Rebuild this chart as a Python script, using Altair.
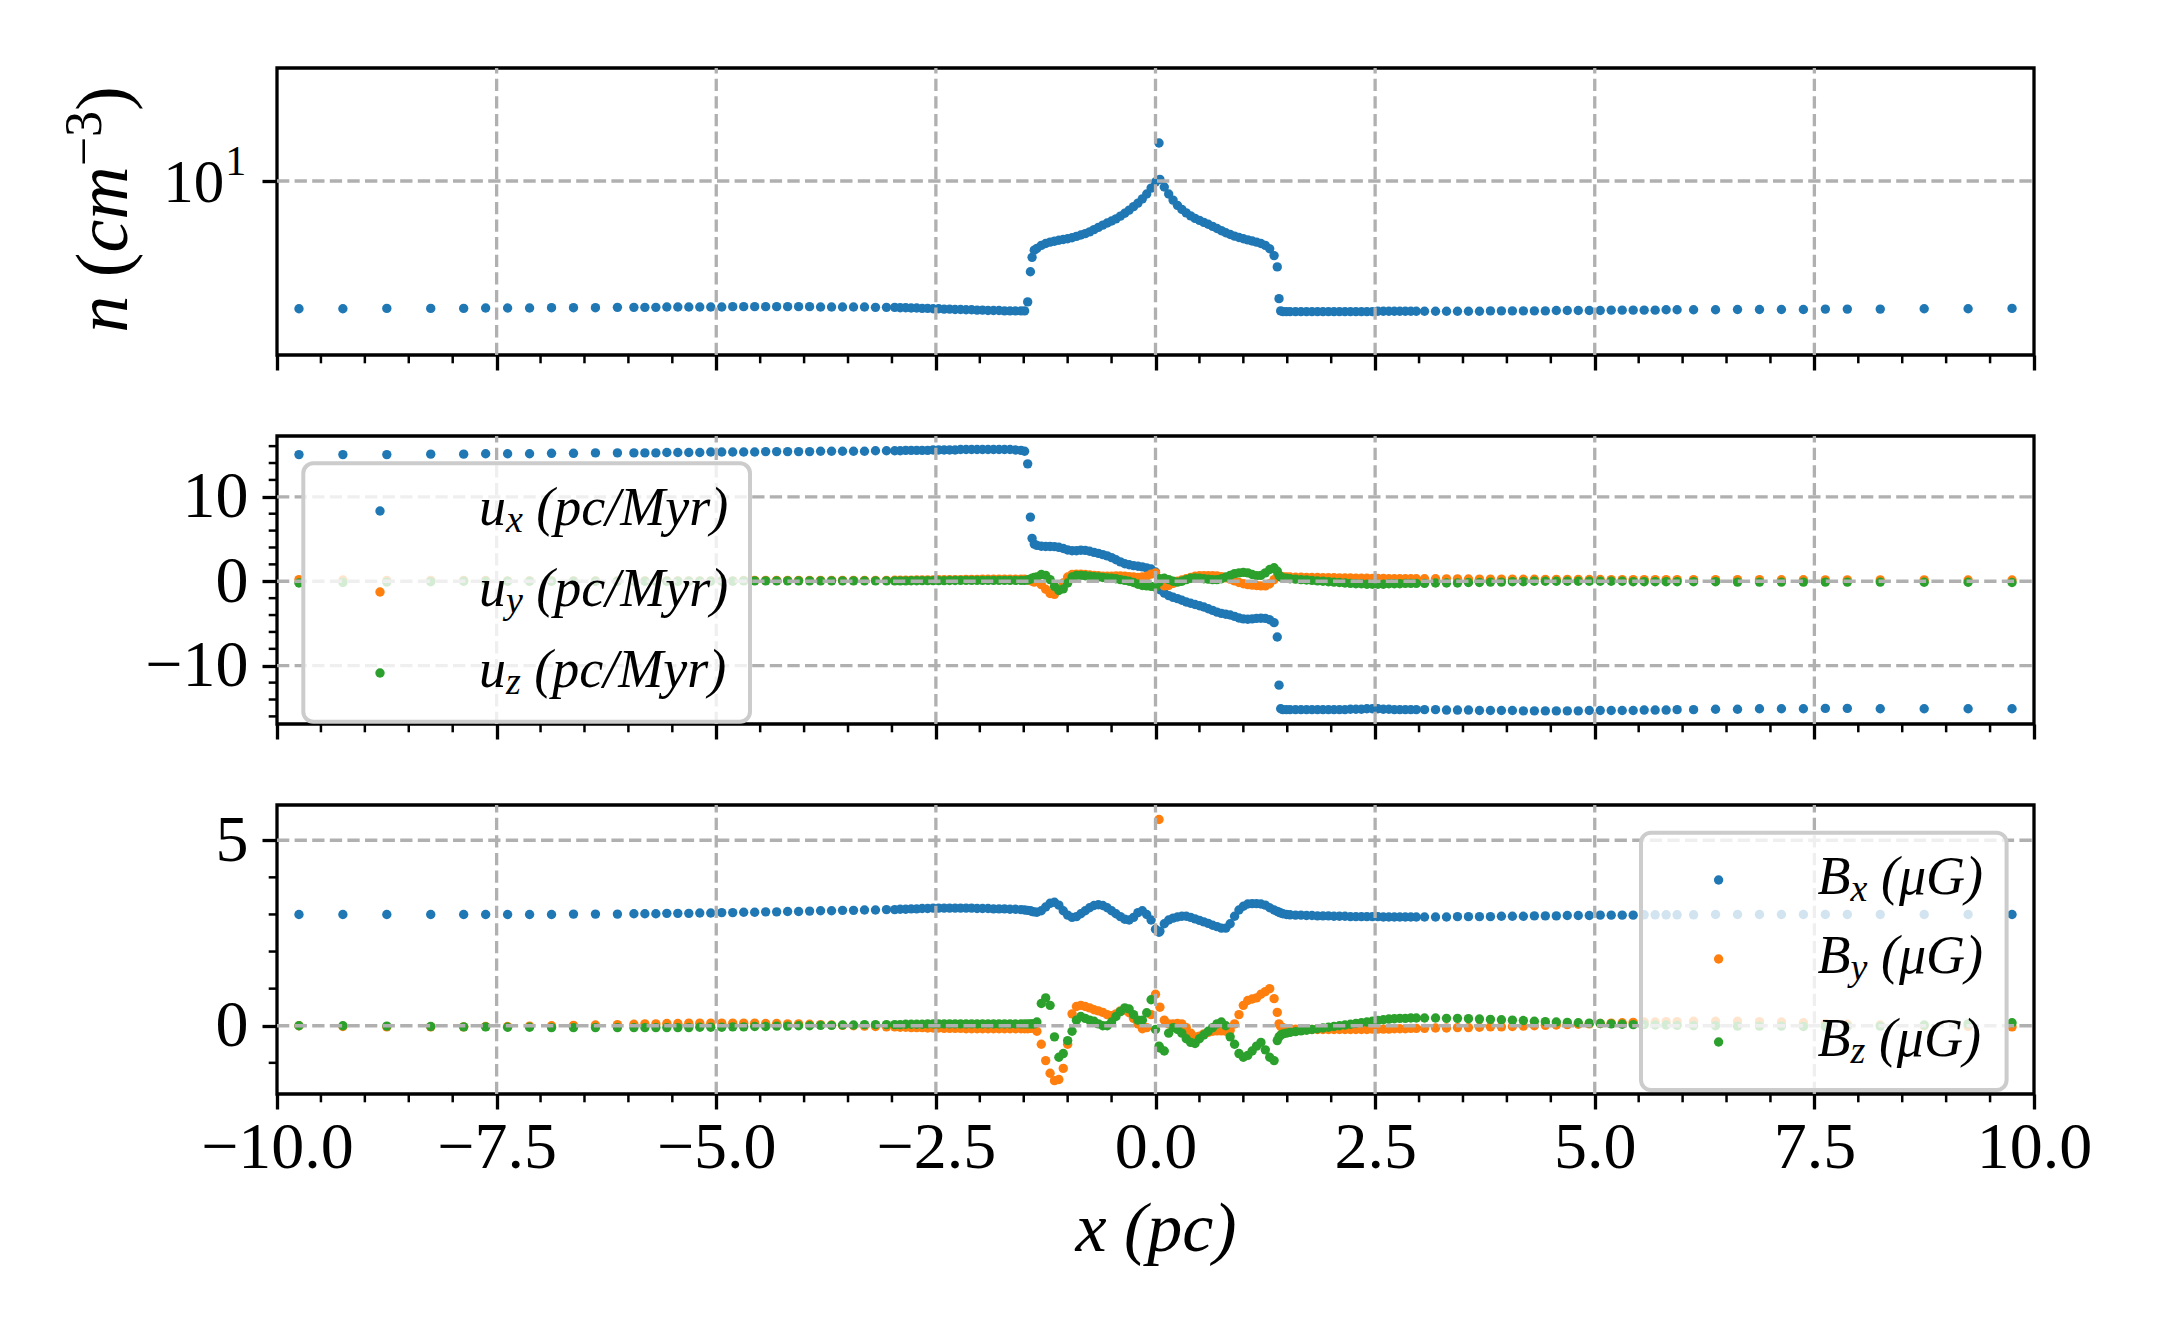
import altair as alt
import pandas as pd

# ---------------- x grid (cell centres) ----------------
X_OL = [-9.75, -9.25, -8.75, -8.25, -7.875, -7.625, -7.375, -7.125, -6.875, -6.625, -6.375, -6.125,
        -5.9375, -5.8125, -5.6875, -5.5625, -5.4375, -5.3125, -5.1875, -5.0625, -4.9375, -4.8125,
        -4.6875, -4.5625, -4.4375, -4.3125, -4.1875, -4.0625, -3.9375, -3.8125, -3.6875, -3.5625,
        -3.4375, -3.3125, -3.1875, -3.0625]
X_FL = [-2.96875, -2.90625, -2.84375, -2.78125, -2.71875, -2.65625, -2.59375, -2.53125, -2.46875,
        -2.40625, -2.34375, -2.28125, -2.21875, -2.15625, -2.09375, -2.03125, -1.96875, -1.90625,
        -1.84375, -1.78125, -1.71875, -1.65625, -1.59375, -1.53125]
X_SL = [-1.49, -1.455, -1.424, -1.405, -1.38]
X_C = [-1.35, -1.30, -1.25, -1.20, -1.15, -1.10, -1.05, -1.00, -0.95, -0.90, -0.85, -0.80, -0.75,
       -0.70, -0.65, -0.60, -0.55, -0.50, -0.45, -0.40, -0.35, -0.30, -0.25, -0.20, -0.15, -0.10,
       -0.05, 0.00, 0.04, 0.05, 0.10, 0.15, 0.20, 0.25, 0.30, 0.35, 0.40, 0.45, 0.50, 0.55, 0.60,
       0.65, 0.70, 0.75, 0.80, 0.85, 0.90, 0.95, 1.00, 1.05, 1.10, 1.15, 1.20, 1.25, 1.30, 1.35]
X_SR = [1.386, 1.406, 1.425, 1.45, 1.49]
X_FR = [1.53125, 1.59375, 1.65625, 1.71875, 1.78125, 1.84375, 1.90625, 1.96875, 2.03125, 2.09375,
        2.15625, 2.21875, 2.28125, 2.34375, 2.40625, 2.46875, 2.53125, 2.59375, 2.65625, 2.71875,
        2.78125, 2.84375, 2.90625, 2.96875]
X_OR = [3.0625, 3.1875, 3.3125, 3.4375, 3.5625, 3.6875, 3.8125, 3.9375, 4.0625, 4.1875, 4.3125,
        4.4375, 4.5625, 4.6875, 4.8125, 4.9375, 5.0625, 5.1875, 5.3125, 5.4375, 5.5625, 5.6875,
        5.8125, 5.9375, 6.125, 6.375, 6.625, 6.875, 7.125, 7.375, 7.625, 7.875, 8.25, 8.75, 9.25, 9.75]
X = X_OL + X_FL + X_SL + X_C + X_SR + X_FR + X_OR

# ---------------- density n (cm^-3) ----------------
N = ([3.00, 3.00, 3.01, 3.01, 3.01, 3.02, 3.02, 3.02, 3.03, 3.03, 3.03, 3.04,
      3.04, 3.04, 3.04, 3.05, 3.05, 3.05, 3.05, 3.05, 3.05, 3.06, 3.06, 3.06, 3.06, 3.06, 3.06,
      3.06, 3.06, 3.05, 3.05, 3.05, 3.05, 3.05, 3.04, 3.04]
     + [3.04, 3.03, 3.03, 3.02, 3.02, 3.01, 3.01, 3.00, 3.00, 2.99, 2.99, 2.98, 2.98, 2.97, 2.97,
        2.96, 2.96, 2.95, 2.95, 2.95, 2.94, 2.94, 2.94, 2.94]
     + [2.94, 3.20, 4.25, 4.87, 5.21]
     + [5.30, 5.45, 5.55, 5.62, 5.67, 5.72, 5.76, 5.80, 5.86, 5.93, 6.01, 6.09, 6.19, 6.32, 6.46,
        6.60, 6.73, 6.86, 7.00, 7.18, 7.38, 7.60, 7.85, 8.12, 8.45, 8.85, 9.35, 9.90, 14.3,
        10.15, 9.45, 8.85, 8.35, 7.95, 7.65, 7.40, 7.20, 7.03, 6.90, 6.77, 6.65, 6.52, 6.39, 6.26,
        6.14, 6.04, 5.95, 5.87, 5.80, 5.74, 5.68, 5.62, 5.55, 5.45, 5.28, 4.95]
     + [4.45, 3.30, 2.94, 2.92, 2.92]
     + [2.92, 2.92, 2.92, 2.92, 2.92, 2.92, 2.92, 2.92, 2.92, 2.92, 2.92, 2.92, 2.92, 2.92, 2.92,
        2.92, 2.93, 2.93, 2.93, 2.93, 2.93, 2.93, 2.93, 2.93]
     + [2.93, 2.93, 2.93, 2.93, 2.93, 2.93, 2.94, 2.94, 2.94, 2.94, 2.94, 2.94, 2.95, 2.95, 2.95,
        2.95, 2.95, 2.96, 2.96, 2.96, 2.96, 2.96, 2.97, 2.97, 2.97, 2.97, 2.98, 2.98, 2.98, 2.98,
        2.99, 2.99, 2.99, 3.00, 3.00, 3.01])

# ---------------- velocities (pc/Myr) ----------------
UX = ([15.0, 15.0, 15.0, 15.05, 15.05, 15.1, 15.1, 15.1, 15.15, 15.15, 15.2, 15.2,
       15.2, 15.2, 15.2, 15.25, 15.25, 15.25, 15.25, 15.3, 15.3, 15.3, 15.3, 15.3, 15.35, 15.35,
       15.35, 15.35, 15.35, 15.4, 15.4, 15.4, 15.4, 15.4, 15.45, 15.45]
      + [15.45, 15.45, 15.5, 15.5, 15.5, 15.5, 15.5, 15.55, 15.55, 15.55, 15.55, 15.55, 15.6, 15.6,
         15.6, 15.6, 15.6, 15.6, 15.6, 15.6, 15.6, 15.6, 15.55, 15.5]
      + [15.4, 13.9, 7.6, 5.08, 4.4]
      + [4.25, 4.15, 4.12, 4.12, 4.10, 4.02, 3.88, 3.70, 3.62, 3.62, 3.68, 3.66, 3.55, 3.42, 3.30,
         3.16, 3.00, 2.80, 2.55, 2.30, 2.08, 1.95, 1.85, 1.78, 1.70, 1.58, 1.45, 1.10, -0.75,
         -1.0, -1.4, -1.7, -1.9, -2.05, -2.25, -2.45, -2.6, -2.75, -2.9, -3.05, -3.25, -3.45, -3.65,
         -3.8, -3.9, -4.0, -4.15, -4.35, -4.45, -4.5, -4.45, -4.4, -4.38, -4.4, -4.55, -4.9]
      + [-6.6, -12.3, -15.1, -15.2, -15.2]
      + [-15.2, -15.2, -15.2, -15.2, -15.2, -15.2, -15.2, -15.2, -15.2, -15.2, -15.2, -15.15, -15.15,
         -15.15, -15.1, -15.1, -15.1, -15.15, -15.15, -15.2, -15.2, -15.2, -15.2, -15.2]
      + [-15.2, -15.2, -15.25, -15.25, -15.25, -15.3, -15.3, -15.3, -15.3, -15.35, -15.35, -15.35,
         -15.35, -15.35, -15.35, -15.3, -15.3, -15.3, -15.3, -15.3, -15.25, -15.25, -15.25, -15.2,
         -15.2, -15.15, -15.15, -15.1, -15.1, -15.1, -15.05, -15.05, -15.1, -15.1, -15.1, -15.1])

UY = ([0.2, 0.15, 0.1, 0.1, 0.1, 0.1, 0.05, 0.05, 0.05, 0.05, 0.05, 0.05,
       0.05, 0.05, 0.05, 0.05, 0.05, 0.05, 0.05, 0.05, 0.05, 0.05, 0.1, 0.1, 0.1, 0.1, 0.1, 0.1,
       0.1, 0.1, 0.1, 0.1, 0.1, 0.1, 0.1, 0.1]
      + [0.12, 0.12, 0.14, 0.14, 0.15, 0.15, 0.16, 0.16, 0.18, 0.18, 0.2, 0.2, 0.2, 0.22, 0.22, 0.22,
         0.24, 0.24, 0.25, 0.25, 0.25, 0.25, 0.25, 0.25]
      + [0.25, 0.2, 0.1, 0.0, -0.1]
      + [0.0, -0.4, -0.95, -1.45, -1.55, -0.95, -0.2, 0.5, 0.8, 0.85, 0.85, 0.8, 0.75, 0.7, 0.65,
         0.6, 0.6, 0.6, 0.62, 0.62, 0.6, 0.55, 0.5, 0.45, 0.5, 0.6, 0.85, 1.0, -0.1,
         -0.3, -0.55, -0.5, -0.25, 0.0, 0.15, 0.3, 0.45, 0.6, 0.65, 0.65, 0.65, 0.65, 0.62, 0.55,
         0.4, 0.25, 0.05, -0.15, -0.3, -0.4, -0.45, -0.5, -0.55, -0.55, -0.3, 0.2]
      + [0.6, 0.65, 0.6, 0.55, 0.5]
      + [0.5, 0.48, 0.47, 0.46, 0.45, 0.44, 0.43, 0.42, 0.41, 0.4, 0.39, 0.38, 0.37, 0.36, 0.35,
         0.34, 0.33, 0.32, 0.31, 0.3, 0.3, 0.3, 0.3, 0.3]
      + [0.3, 0.3, 0.29, 0.28, 0.27, 0.26, 0.26, 0.25, 0.25, 0.24, 0.24, 0.23, 0.23, 0.22, 0.22,
         0.21, 0.21, 0.2, 0.2, 0.2, 0.2, 0.2, 0.2, 0.2, 0.2, 0.2, 0.19, 0.19, 0.18, 0.18, 0.17,
         0.17, 0.16, 0.16, 0.15, 0.15])

UZ = ([-0.2, -0.15, -0.1, -0.05, 0.0, 0.0, 0.0, 0.0, 0.0, 0.0, 0.0, 0.0,
       0.0, 0.0, 0.0, 0.0, 0.0, 0.0, 0.0, 0.0, 0.0, 0.0, 0.05, 0.05, 0.05, 0.05, 0.05, 0.05,
       0.05, 0.05, 0.05, 0.05, 0.05, 0.05, 0.05, 0.05]
      + [0.05, 0.05, 0.05, 0.06, 0.06, 0.07, 0.07, 0.08, 0.08, 0.08, 0.09, 0.09, 0.1, 0.1, 0.1,
         0.1, 0.1, 0.1, 0.1, 0.1, 0.1, 0.1, 0.1, 0.1]
      + [0.1, 0.15, 0.25, 0.35, 0.45]
      + [0.5, 0.8, 0.7, 0.2, -0.6, -1.1, -0.9, -0.2, 0.5, 0.7, 0.7, 0.65, 0.6, 0.55, 0.5, 0.45,
         0.4, 0.35, 0.3, 0.2, 0.1, 0.0, -0.15, -0.35, -0.5, -0.55, -0.6, -0.7, -0.1,
         0.3, 0.35, 0.2, 0.0, -0.1, 0.0, 0.2, 0.35, 0.4, 0.35, 0.3, 0.25, 0.2, 0.2, 0.3, 0.5, 0.7,
         0.9, 1.0, 1.05, 1.0, 0.8, 0.65, 0.7, 1.0, 1.4, 1.6]
      + [1.2, 0.7, 0.5, 0.4, 0.35]
      + [0.3, 0.25, 0.2, 0.15, 0.1, 0.05, 0.0, -0.05, -0.1, -0.15, -0.2, -0.25, -0.3, -0.3, -0.35,
         -0.35, -0.35, -0.35, -0.3, -0.3, -0.3, -0.25, -0.25, -0.25]
      + [-0.25, -0.2, -0.2, -0.2, -0.15, -0.15, -0.1, -0.1, -0.05, -0.05, 0.0, 0.0, 0.0, 0.0, 0.0,
         0.0, 0.0, 0.0, 0.0, -0.05, -0.05, -0.05, -0.05, -0.05, -0.05, -0.05, -0.1, -0.1, -0.1,
         -0.1, -0.1, -0.1, -0.1, -0.12, -0.12, -0.15])

# ---------------- magnetic field (muG) ----------------
BX = ([3.0, 3.0, 3.0, 3.0, 3.0, 3.0, 3.0, 3.0, 3.0, 3.01, 3.01, 3.01,
       3.02, 3.02, 3.02, 3.03, 3.03, 3.03, 3.04, 3.04, 3.05, 3.05, 3.06, 3.06, 3.07, 3.07, 3.08,
       3.08, 3.09, 3.1, 3.1, 3.11, 3.11, 3.12, 3.12, 3.13]
      + [3.13, 3.14, 3.14, 3.15, 3.15, 3.16, 3.16, 3.17, 3.17, 3.17, 3.17, 3.17, 3.17, 3.17, 3.17,
         3.16, 3.16, 3.16, 3.15, 3.15, 3.15, 3.14, 3.14, 3.13]
      + [3.12, 3.11, 3.1, 3.08, 3.07]
      + [3.06, 3.10, 3.2, 3.3, 3.33, 3.25, 3.1, 2.98, 2.92, 2.94, 3.02, 3.1, 3.18, 3.24, 3.26,
         3.24, 3.18, 3.1, 3.02, 2.94, 2.87, 2.85, 2.92, 3.05, 3.1, 3.0, 2.85, 2.6, 2.52,
         2.55, 2.75, 2.85, 2.9, 2.93, 2.95, 2.95, 2.92, 2.88, 2.84, 2.8, 2.76, 2.71, 2.67, 2.63,
         2.63, 2.75, 2.95, 3.12, 3.22, 3.28, 3.29, 3.29, 3.28, 3.25, 3.18, 3.12]
      + [3.08, 3.06, 3.04, 3.02, 3.0]
      + [2.99, 2.98, 2.98, 2.97, 2.97, 2.96, 2.96, 2.96, 2.95, 2.95, 2.95, 2.94, 2.94, 2.94, 2.94,
         2.94, 2.94, 2.93, 2.93, 2.93, 2.93, 2.93, 2.93, 2.93]
      + [2.93, 2.93, 2.93, 2.94, 2.94, 2.94, 2.94, 2.95, 2.95, 2.95, 2.96, 2.96, 2.96, 2.97, 2.97,
         2.97, 2.98, 2.98, 2.98, 2.98, 2.99, 2.99, 2.99, 2.99, 2.99, 3.0, 3.0, 3.0, 3.0, 3.0, 3.0,
         3.0, 3.0, 3.0, 3.0, 3.0])

BY = ([0.0, -0.02, -0.03, -0.03, -0.03, -0.02, -0.02, -0.01, 0.0, 0.01, 0.02, 0.03,
       0.04, 0.05, 0.05, 0.06, 0.06, 0.07, 0.07, 0.07, 0.07, 0.07, 0.07, 0.07, 0.06, 0.06, 0.05,
       0.05, 0.04, 0.03, 0.02, 0.01, 0.0, -0.01, -0.02, -0.03]
      + [-0.03, -0.04, -0.04, -0.05, -0.05, -0.05, -0.06, -0.06, -0.06, -0.07, -0.07, -0.07, -0.07,
         -0.08, -0.08, -0.08, -0.08, -0.08, -0.08, -0.08, -0.08, -0.08, -0.08, -0.08]
      + [-0.08, -0.08, -0.07, -0.06, -0.05]
      + [-0.15, -0.5, -0.94, -1.28, -1.48, -1.45, -1.15, -0.5, 0.32, 0.52, 0.55, 0.52, 0.48, 0.43,
         0.4, 0.36, 0.3, 0.27, 0.32, 0.4, 0.42, 0.35, 0.2, 0.05, -0.08, -0.05, 0.3, 0.85, 5.56,
         0.5, 0.15, 0.05, 0.05, 0.06, 0.05, -0.05, -0.2, -0.3, -0.28, -0.22, -0.18, -0.15, -0.14,
         -0.14, -0.15, -0.12, 0.05, 0.3, 0.55, 0.68, 0.72, 0.75, 0.85, 0.92, 1.0, 0.73]
      + [0.36, 0.05, -0.02, -0.05, -0.08]
      + [-0.08, -0.09, -0.1, -0.1, -0.1, -0.1, -0.1, -0.1, -0.1, -0.1, -0.1, -0.1, -0.1, -0.1, -0.1,
         -0.09, -0.09, -0.09, -0.09, -0.08, -0.08, -0.08, -0.07, -0.07]
      + [-0.07, -0.06, -0.06, -0.05, -0.05, -0.04, -0.03, -0.03, -0.02, -0.01, 0.0, 0.01, 0.02,
         0.03, 0.04, 0.05, 0.06, 0.07, 0.08, 0.09, 0.1, 0.1, 0.11, 0.11, 0.12, 0.12, 0.12, 0.11,
         0.1, 0.08, 0.06, 0.04, 0.02, 0.0, -0.02, -0.03])

BZ = ([0.0, 0.0, -0.01, -0.02, -0.03, -0.03, -0.04, -0.04, -0.05, -0.05, -0.05, -0.05,
       -0.05, -0.05, -0.05, -0.05, -0.05, -0.05, -0.04, -0.04, -0.04, -0.03, -0.03, -0.02, -0.02,
       -0.01, -0.01, 0.0, 0.0, 0.01, 0.01, 0.02, 0.02, 0.03, 0.03, 0.03]
      + [0.03, 0.03, 0.04, 0.04, 0.04, 0.04, 0.05, 0.05, 0.05, 0.05, 0.05, 0.05, 0.05, 0.05, 0.05,
         0.05, 0.05, 0.05, 0.05, 0.05, 0.05, 0.05, 0.05, 0.05]
      + [0.05, 0.05, 0.05, 0.05, 0.05]
      + [0.1, 0.6, 0.75, 0.55, -0.3, -0.85, -0.75, -0.4, -0.15, 0.15, 0.25, 0.2, 0.15, 0.12, 0.05,
         0.0, 0.0, 0.1, 0.25, 0.38, 0.48, 0.45, 0.3, 0.15, 0.15, 0.35, 0.7, -0.1, -0.55,
         -0.6, -0.68, -0.2, -0.05, -0.1, -0.2, -0.35, -0.45, -0.48, -0.35, -0.25, -0.15, -0.05,
         0.05, 0.1, 0.0, -0.3, -0.5, -0.75, -0.85, -0.8, -0.68, -0.55, -0.45, -0.65, -0.85, -0.94]
      + [-0.4, -0.3, -0.25, -0.22, -0.2]
      + [-0.18, -0.16, -0.14, -0.12, -0.1, -0.08, -0.06, -0.04, -0.02, 0.0, 0.02, 0.04, 0.06, 0.08,
         0.1, 0.12, 0.14, 0.16, 0.18, 0.19, 0.2, 0.2, 0.21, 0.21]
      + [0.21, 0.21, 0.2, 0.2, 0.19, 0.18, 0.17, 0.16, 0.15, 0.14, 0.12, 0.11, 0.1, 0.09, 0.08,
         0.07, 0.06, 0.05, 0.04, 0.03, 0.03, 0.02, 0.02, 0.01, 0.0, 0.0, -0.01, -0.01, -0.01,
         -0.02, -0.02, -0.02, -0.01, 0.02, 0.05, 0.08])

SERIES = {"n": N, "ux": UX, "uy": UY, "uz": UZ, "Bx": BX, "By": BY, "Bz": BZ}
for name, vals in SERIES.items():
    if len(vals) != len(X):
        raise ValueError(f"series {name} has {len(vals)} values, x has {len(X)}")
df = pd.DataFrame({"x": X, **SERIES})

# ---------------- ticks / labels ----------------
X_MAJOR = [-10, -7.5, -5, -2.5, 0, 2.5, 5, 7.5, 10]
X_GRID = [-7.5, -5, -2.5, 0, 2.5, 5, 7.5]
X_MINOR = [-9.5, -9, -8.5, -8, -7, -6.5, -6, -5.5, -4.5, -4, -3.5, -3, -2, -1.5, -1, -0.5,
           0.5, 1, 1.5, 2, 3, 3.5, 4, 4.5, 5.5, 6, 6.5, 7, 8, 8.5, 9, 9.5]
N_TICKS = [10]
N_TICK_LABEL = ("10", "1")          # 10^1
U_TICKS = [-10, 0, 10]
U_MINOR = [-16, -14, -12, -8, -6, -4, -2, 2, 4, 6, 8, 12, 14, 16]
B_TICKS = [0, 5]
B_MINOR = [-1, 1, 2, 3, 4]

# y title of the top panel: n (cm^-3), written piece by piece (italic / upright / superscript)
N_TITLE = [("n", True, 74), ("(", False, 74), ("cm", True, 74), ("\u22123", False, 52), (")", False, 74)]
U_LEGEND = [("u", "x", "(pc/Myr)"), ("u", "y", "(pc/Myr)"), ("u", "z", "(pc/Myr)")]
B_LEGEND = [("B", "x", "(\u03bcG)"), ("B", "y", "(\u03bcG)"), ("B", "z", "(\u03bcG)")]

BLUE, ORANGE, GREEN = "#1f77b4", "#ff7f0e", "#2ca02c"
COLORS = [BLUE, ORANGE, GREEN]
FONT = "Liberation Serif"
W = 1757
H1, H2, H3 = 287, 288, 289
PT = 88  # point area
LW = 3.3

xscale = alt.Scale(domain=[-10, 10], nice=False, zero=False)


def x_axis(show):
    kw = dict(values=X_MAJOR, grid=False, domain=False, ticks=True, tickSize=15, tickWidth=LW,
              tickColor="black", labels=show, labelFlush=False, labelOverlap=False)
    if show:
        kw.update(format=".1f", labelFont=FONT, labelFontSize=66, labelPadding=6,
                  labelColor="black", title="x (pc)", titleFont=FONT, titleFontSize=70,
                  titleFontStyle="italic", titleFontWeight="normal", titleColor="black",
                  titlePadding=15)
    else:
        kw.update(title=None)
    return alt.Axis(**kw)


def y_axis(values, fmt=None, labels=True):
    kw = dict(values=values, grid=False, domain=False, ticks=True, tickSize=15, tickWidth=LW,
              tickColor="black", labels=labels, labelFont=FONT, labelFontSize=66, labelPadding=14,
              labelColor="black", labelOverlap=False, title=None)
    if fmt:
        kw["format"] = fmt
    return alt.Axis(**kw)


def points(field, color, yscale, yaxis=None, xaxis=None):
    xk = dict(scale=xscale)
    yk = dict(scale=yscale)
    if xaxis is not None:
        xk["axis"] = xaxis
    if yaxis is not None:
        yk["axis"] = yaxis
    return alt.Chart(df).mark_circle(size=PT, opacity=1, color=color).encode(
        x=alt.X("x:Q", **xk),
        y=alt.Y(f"{field}:Q", **yk),
    )


DASH = [12.3, 5.3]


def grid_layers(yscale, yvals, H):
    gx = alt.Chart(pd.DataFrame({"v": X_GRID})).mark_rule(
        color="#b0b0b0", strokeWidth=LW, strokeDash=DASH).encode(
        x=alt.X("v:Q", scale=xscale), y=alt.value(H), y2=alt.value(0))
    gy = alt.Chart(pd.DataFrame({"v": yvals})).mark_rule(
        color="#b0b0b0", strokeWidth=LW, strokeDash=DASH).encode(
        y=alt.Y("v:Q", scale=yscale), x=alt.value(0), x2=alt.value(W))
    return [gx, gy]


def minor_layers(yscale, yminor, H):
    out = [alt.Chart(pd.DataFrame({"v": X_MINOR})).mark_rule(color="black", strokeWidth=2.5).encode(
        x=alt.X("v:Q", scale=xscale), y=alt.value(H), y2=alt.value(H + 8.3))]
    if yminor:
        out.append(alt.Chart(pd.DataFrame({"v": yminor})).mark_rule(color="black", strokeWidth=2.5).encode(
            y=alt.Y("v:Q", scale=yscale), x=alt.value(0), x2=alt.value(-8.3)))
    return out


ONE = pd.DataFrame({"a": [0]})


def log_tick_labels(yscale):
    """'10' with a superscript '1' at the 10^1 tick, placed through the y scale."""
    d = pd.DataFrame({"v": N_TICKS})
    base, sup = N_TICK_LABEL
    a = alt.Chart(d).mark_text(text=base, font=FONT, fontSize=61, align="right", baseline="alphabetic",
                               dy=21, color="black").encode(
        y=alt.Y("v:Q", scale=yscale), x=alt.value(-52.7))
    b = alt.Chart(d).mark_text(text=sup, font=FONT, fontSize=42, align="right", baseline="alphabetic",
                               dy=-6, color="black").encode(
        y=alt.Y("v:Q", scale=yscale), x=alt.value(-30.7))
    return [a, b]


def n_title_layers():
    widths = {"n": 0.5, "(": 0.333, "cm": 1.166, "\u22123": 1.064, ")": 0.333}
    y = 264.7
    out = []
    for i, (txt, ital, fs) in enumerate(N_TITLE):
        raise_px = 26 if fs < 70 else 0
        out.append(alt.Chart(ONE).mark_text(
            text=txt, font=FONT, fontSize=fs, fontStyle="italic" if ital else "normal",
            angle=270, align="left", baseline="alphabetic", color="black").encode(
            x=alt.value(-149.7 - raise_px), y=alt.value(y)))
        y -= widths[txt] * fs
        if i == 0:
            y -= 0.25 * fs
    return out


def legend_layers(box, sym_x, text_x, rows, labels):
    x0, x1, y0, y1 = box
    out = [alt.Chart(ONE).mark_rect(fill="white", fillOpacity=0.8, stroke="#cccccc", strokeWidth=4,
                                    cornerRadius=10).encode(
        x=alt.value(x0), x2=alt.value(x1), y=alt.value(y0), y2=alt.value(y1))]
    sub_w = {"x": 0.444, "y": 0.444, "z": 0.389}
    main_w = {"u": 0.5, "B": 0.611}
    for (main, sub, rest), color, ry in zip(labels, COLORS, rows):
        out.append(alt.Chart(ONE).mark_circle(size=PT, opacity=1, color=color).encode(
            x=alt.value(sym_x), y=alt.value(ry)))
        mw = main_w[main] * 54
        sw = sub_w[sub] * 38
        txt = dict(font=FONT, fontStyle="italic", align="left", baseline="alphabetic", color="black")
        out.append(alt.Chart(ONE).mark_text(text=main, fontSize=54, **txt).encode(
            x=alt.value(text_x), y=alt.value(ry + 14)))
        out.append(alt.Chart(ONE).mark_text(text=sub, fontSize=38, **txt).encode(
            x=alt.value(text_x + mw), y=alt.value(ry + 21)))
        out.append(alt.Chart(ONE).mark_text(text=rest, fontSize=54, **txt).encode(
            x=alt.value(text_x + mw + sw + 13.5), y=alt.value(ry + 14)))
    return out


# ---------------- panel 1: density ----------------
ys1 = alt.Scale(type="log", domain=[1.94, 29], nice=False)
p1 = alt.layer(
    points("n", BLUE, ys1, y_axis(N_TICKS, labels=False), x_axis(False)),
    *grid_layers(ys1, N_TICKS, H1),
    *minor_layers(ys1, None, H1),
    *log_tick_labels(ys1),
    *n_title_layers(),
).properties(width=W, height=H1)

# ---------------- panel 2: velocity ----------------
ys2 = alt.Scale(domain=[-16.9, 17.2], nice=False, zero=False)
p2 = alt.layer(
    points("ux", BLUE, ys2, y_axis(U_TICKS, fmt="d"), x_axis(False)),
    points("uy", ORANGE, ys2),
    points("uz", GREEN, ys2),
    *grid_layers(ys2, U_TICKS, H2),
    *minor_layers(ys2, U_MINOR, H2),
    *legend_layers((26.3, 473, 27.3, 285.7), 103, 202, [75, 156, 237], U_LEGEND),
).properties(width=W, height=H2)

# ---------------- panel 3: magnetic field ----------------
ys3 = alt.Scale(domain=[-1.84, 5.95], nice=False, zero=False)
p3 = alt.layer(
    points("Bx", BLUE, ys3, y_axis(B_TICKS, fmt="d"), x_axis(True)),
    points("By", ORANGE, ys3),
    points("Bz", GREEN, ys3),
    *grid_layers(ys3, B_TICKS, H3),
    *minor_layers(ys3, B_MINOR, H3),
    *legend_layers((1364, 1729.6, 27.7, 285), 1441.6, 1540.6, [75, 154, 237], B_LEGEND),
).properties(width=W, height=H3)

chart = alt.vconcat(p1, p2, p3, spacing=81, bounds="flush").properties(
    padding={"left": 49, "top": 56, "right": 10, "bottom": 10}
).configure_view(stroke="black", strokeWidth=LW).configure_axis(
    labelFont=FONT, titleFont=FONT, labelColor="black", titleColor="black"
)

chart.save("out.html", embed_options={"renderer": "svg", "actions": False})
